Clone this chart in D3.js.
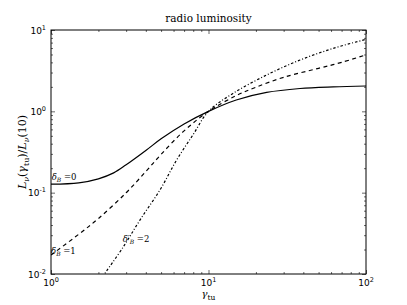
<!DOCTYPE html>
<html lang="en">
	<head>
		<meta charset="utf-8">
		<title>radio luminosity</title>
		<script type="text/javascript" src="https://cdn.jsdelivr.net/npm/d3@7"></script>
		<style type="text/css">
			body { margin: 0; background: #fff; }
			.tick line { stroke: #000; }
			.domain { display: none; }
		</style>
	</head>
	<body>
		<script type="text/javascript">

			//Width and height
			var w = 407;
			var h = 305;
			var m = {left: 51, top: 30, right: 41, bottom: 31};

			//data
			var gamma0 = [1, 1.5, 2, 2.5, 3, 4, 5, 7, 10, 15, 23.4, 38.1, 62, 100];
			var delta0 = [0.127, 0.132, 0.148, 0.175, 0.22, 0.33, 0.46, 0.70, 1.0, 1.38, 1.71, 1.91, 2.0, 2.05];

			var gamma1 = [1, 1.5, 2, 3, 4, 5, 7, 10, 15, 20, 30, 50, 70, 100];
			var delta1 = [0.0171, 0.0308, 0.0481, 0.0998, 0.182, 0.296, 0.575, 1.0, 1.56, 1.98, 2.62, 3.38, 4.0, 4.95];

			var gamma2 = [2.2, 2.88, 3.67, 4.92, 6.26, 8, 10, 14.3, 23.4, 38.1, 62, 100];
			var delta2 = [0.0102, 0.0216, 0.046, 0.108, 0.25, 0.52, 1.0, 1.66, 2.8, 4.27, 5.95, 7.67];

			var xMajor = [1, 10, 100];
			var yMajor = [0.01, 0.1, 1, 10];
			var xExp = ["0", "1", "2"];
			var yExp = ["-2", "-1", "0", "1"];

			var x = d3.scaleLog().domain([1, 100]).range([m.left, w - m.right]);
			var y = d3.scaleLog().domain([0.01, 10]).range([h - m.bottom, m.top]);

			//minor ticks 2..9 in every decade
			function minors(lo, hi) {
				var out = [];
				for (var p = lo; p < hi; p++) {
					for (var k = 2; k <= 9; k++) out.push(k * Math.pow(10, p));
				}
				return out;
			}
			var xMinor = minors(0, 2);
			var yMinor = minors(-2, 1);

			var svg = d3.select("body")
						.append("svg")
						.attr("width", w)
						.attr("height", h)
						.style("font-family", "DejaVu Sans");

			svg.append("defs").append("clipPath").attr("id", "clip")
				.append("rect")
				.attr("x", m.left).attr("y", m.top)
				.attr("width", w - m.left - m.right)
				.attr("height", h - m.top - m.bottom);

			//ticks, pointing into the plot, on all four sides
			function addAxis(axis, tr) {
				svg.append("g").attr("transform", tr).call(axis)
					.selectAll("line").attr("stroke-width", 0.6);
			}
			var trBottom = "translate(0," + (h - m.bottom) + ")";
			var trTop = "translate(0," + m.top + ")";
			var trLeft = "translate(" + m.left + ",0)";
			var trRight = "translate(" + (w - m.right) + ",0)";
			addAxis(d3.axisBottom(x).tickValues(xMajor).tickSize(-4).tickFormat(""), trBottom);
			addAxis(d3.axisBottom(x).tickValues(xMinor).tickSize(-2).tickFormat(""), trBottom);
			addAxis(d3.axisTop(x).tickValues(xMajor).tickSize(-4).tickFormat(""), trTop);
			addAxis(d3.axisTop(x).tickValues(xMinor).tickSize(-2).tickFormat(""), trTop);
			addAxis(d3.axisLeft(y).tickValues(yMajor).tickSize(-4).tickFormat(""), trLeft);
			addAxis(d3.axisLeft(y).tickValues(yMinor).tickSize(-2).tickFormat(""), trLeft);
			addAxis(d3.axisRight(y).tickValues(yMajor).tickSize(-4).tickFormat(""), trRight);
			addAxis(d3.axisRight(y).tickValues(yMinor).tickSize(-2).tickFormat(""), trRight);

			//curves
			var line = d3.line()
						.x(function(d) { return x(d[0]); })
						.y(function(d) { return y(d[1]); })
						.curve(d3.curveCatmullRom.alpha(0.5));

			var series = [
				{g: gamma0, v: delta0, dash: null},
				{g: gamma1, v: delta1, dash: "4,3.5"},
				{g: gamma2, v: delta2, dash: "1,2,2.5,2"}
			];

			svg.append("g").attr("clip-path", "url(#clip)")
				.selectAll("path")
				.data(series)
				.enter()
				.append("path")
				.attr("d", function(s) { return line(d3.zip(s.g, s.v)); })
				.attr("fill", "none")
				.attr("stroke", "#000")
				.attr("stroke-width", 1.2)
				.attr("stroke-dasharray", function(s) { return s.dash; });

			//frame
			svg.append("rect")
				.attr("x", m.left).attr("y", m.top)
				.attr("width", w - m.left - m.right)
				.attr("height", h - m.top - m.bottom)
				.attr("fill", "none")
				.attr("stroke", "#000")
				.attr("stroke-width", 1);

			//tick labels with superscript exponents
			var xl = svg.selectAll("text.xl")
						.data(xMajor)
						.enter()
						.append("text")
						.attr("class", "xl")
						.attr("text-anchor", "middle")
						.attr("x", function(d) { return x(d); })
						.attr("y", h - m.bottom + 12)
						.style("font-size", "9px");
			xl.append("tspan").text("10");
			xl.append("tspan").attr("dy", -4).style("font-size", "6.5px")
				.text(function(d, i) { return xExp[i]; });

			var yl = svg.selectAll("text.yl")
						.data(yMajor)
						.enter()
						.append("text")
						.attr("class", "yl")
						.attr("text-anchor", "end")
						.attr("x", m.left - 5)
						.attr("y", function(d) { return y(d) + 3.5; })
						.style("font-size", "9px");
			yl.append("tspan").text("10");
			yl.append("tspan").attr("dy", -4).style("font-size", "6.5px")
				.text(function(d, i) { return yExp[i]; });

			//title and axis labels
			var serif = "DejaVu Serif";
			svg.append("text")
				.attr("x", (m.left + w - m.right) / 2)
				.attr("y", 22)
				.attr("text-anchor", "middle")
				.style("font-family", serif)
				.style("font-size", "10.5px")
				.text("radio luminosity");

			var xt = svg.append("text")
				.attr("x", (m.left + w - m.right) / 2)
				.attr("y", 297)
				.attr("text-anchor", "middle")
				.style("font-family", serif)
				.style("font-size", "10px");
			xt.append("tspan").style("font-style", "italic").text("γ");
			xt.append("tspan").attr("dy", 2.5).style("font-size", "7.5px").text("tu");

			var yt = svg.append("text")
				.attr("transform", "translate(26," + ((m.top + h - m.bottom) / 2) + ") rotate(-90)")
				.attr("text-anchor", "middle")
				.style("font-family", serif)
				.style("font-size", "11px");
			yt.append("tspan").style("font-style", "italic").text("L");
			yt.append("tspan").attr("dy", 2.5).style("font-size", "8px").style("font-style", "italic").text("ν");
			yt.append("tspan").attr("dy", -2.5).text("(");
			yt.append("tspan").style("font-style", "italic").text("γ");
			yt.append("tspan").attr("dy", 2.5).style("font-size", "8px").text("tu");
			yt.append("tspan").attr("dy", -2.5).text(")/");
			yt.append("tspan").style("font-style", "italic").text("L");
			yt.append("tspan").attr("dy", 2.5).style("font-size", "8px").style("font-style", "italic").text("ν");
			yt.append("tspan").attr("dy", -2.5).text("(10)");

			//curve labels
			var labels = [
				{g: 1.01, v: 0.145, sub: "B", pre: "δ", num: "0"},
				{g: 1.0, v: 0.0175, sub: "B", pre: "δ", num: "1"},
				{g: 2.85, v: 0.0245, sub: "B", pre: "δ′", num: "2"}
			];
			var lab = svg.selectAll("text.lab")
						.data(labels)
						.enter()
						.append("text")
						.attr("class", "lab")
						.attr("x", function(d) { return x(d.g); })
						.attr("y", function(d) { return y(d.v); })
						.style("font-family", serif)
						.style("font-size", "8.5px");
			lab.append("tspan").style("font-style", "italic").text(function(d) { return d.pre; });
			lab.append("tspan").attr("dy", 2).style("font-size", "6px").style("font-style", "italic").text(function(d) { return d.sub; });
			lab.append("tspan").attr("dy", -2).text(function(d) { return " =" + d.num; });

		</script>
	</body>
</html>
